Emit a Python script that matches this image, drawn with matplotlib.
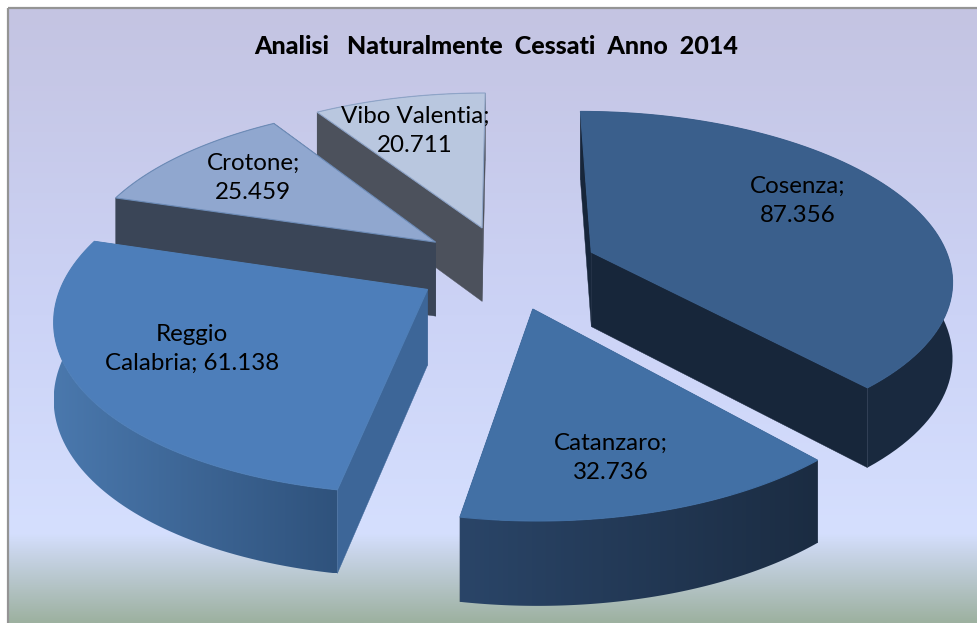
import numpy as np
import matplotlib
matplotlib.use("Agg")
import matplotlib.pyplot as plt
from matplotlib.colors import LinearSegmentedColormap
from matplotlib.patches import Polygon, Rectangle

# dati del grafico
categories = ["Cosenza", "Catanzaro", "Reggio\nCalabria", "Crotone", "Vibo Valentia"]
values = [87356, 32736, 61138, 25459, 20711]
title = "Analisi   Naturalmente  Cessati  Anno  2014"

# stile per fetta
top_colors = ["#3a5f8c", "#4270a5", "#4d7eba", "#90a7cf", "#b9c7df"]
wall_colors = ["#17263a", "#1b2c42", "#3d6698", "#3a4557", "#4c515c"]
rim_left = ["#17263a", "#2a4568", "#4a78ad", "#3a4557", "#4c515c"]
rim_right = ["#1a2a40", "#1b2c42", "#2f527c", "#3a4557", "#4c515c"]
edge_colors = ["#3a5f8c", "#4270a5", "#4f7fb8", "#6d8cb8", "#8ea4c8"]
label_pos = [(798, 201), (611, 458), (192, 349), (253, 178), (415, 131)]

# proiezione prospettica della torta
CX, CY = 507, 267
AX, BY = 360, 166
PERSP = 0.15
EXPLODE = 0.254
HEIGHT = 75

plt.rcParams["font.family"] = ["Lato", "DejaVu Sans"]


def project(x, y, z=0.0):
    q = 1 + PERSP * y
    return np.column_stack([CX + AX * x / q, CY - BY * y / q + z / q ** 0.6])


def gradient_patch(ax, pts, c0, c1):
    pts = np.asarray(pts)
    cmap = LinearSegmentedColormap.from_list("g", [c0, c1])
    im = ax.imshow(np.linspace(0, 1, 256).reshape(1, -1), cmap=cmap, aspect="auto", zorder=ax.zo,
                   extent=[pts[:, 0].min(), pts[:, 0].max(), pts[:, 1].max(), pts[:, 1].min()])
    poly = Polygon(pts, closed=True, transform=ax.transData, fc="none", ec="none")
    ax.add_patch(poly)
    im.set_clip_path(poly)


fig = plt.figure(figsize=(9.78, 6.23), dpi=100)
ax = fig.add_axes([0, 0, 1, 1])
ax.set_xlim(0, 978); ax.set_ylim(623, 0)
ax.set_autoscale_on(False)
ax.axis("off")
ax.zo = 2

# sfondo
bg = LinearSegmentedColormap.from_list("bg", [
    (0.0, "#c4c4e2"), (0.5, "#ccd3f6"), (0.855, "#d5dffe"), (0.885, "#c9d5ea"), (1.0, "#9db1a0")])
ax.imshow(np.linspace(0, 1, 256).reshape(-1, 1), cmap=bg, aspect="auto", zorder=0,
          extent=[8, 978, 623, 8])
ax.add_patch(Rectangle((8, 8), 975, 620, fc="none", ec="#949494", lw=1.6, zorder=1))

# calcolo angoli (senso orario dalle ore 12)
vals = np.array(values, dtype=float)
ends = np.cumsum(vals) / vals.sum() * 2 * np.pi
starts = np.r_[0, ends[:-1]]
mids = (starts + ends) / 2
off_x = EXPLODE * np.sin(mids)
off_y = EXPLODE * np.cos(mids)

for i in np.argsort(-off_y):
    t = np.linspace(starts[i], ends[i], 80)
    rx = off_x[i] + np.sin(t)
    ry = off_y[i] + np.cos(t)
    top = np.vstack([project(off_x[i], off_y[i]), project(rx, ry)])
    rim_top = project(rx, ry)
    rim_bot = project(rx, ry, HEIGHT)
    apex_top = project(off_x[i], off_y[i])
    apex_bot = project(off_x[i], off_y[i], HEIGHT)

    walls = []
    for k in (0, -1):
        walls.append((off_y[i] + np.cos(t[k]) / 2,
                       np.vstack([apex_top, rim_top[k], rim_bot[k], apex_bot]), "wall"))
    walls.append((ry.mean(), np.vstack([rim_top, rim_bot[::-1]]), "rim"))
    walls.sort(key=lambda w: -w[0])
    for _, pts, kind in walls:
        ax.zo += 1
        if kind == "rim":
            gradient_patch(ax, pts, rim_left[i], rim_right[i])
        else:
            ax.add_patch(Polygon(pts, closed=True, fc=wall_colors[i], ec=wall_colors[i], lw=0.3, zorder=ax.zo))
    ax.zo += 1
    ax.add_patch(Polygon(top, closed=True, fc=top_colors[i], ec=edge_colors[i], lw=0.8, zorder=ax.zo))

# etichette
for name, val, pos in zip(categories, values, label_pos):
    num = f"{val:,}".replace(",", ".")
    if "\n" in name:
        txt = f"{name}; {num}"
    else:
        txt = f"{name};\n{num}"
    ax.text(pos[0], pos[1], txt, ha="center", va="center", fontsize=17.4, color="#000000",
            linespacing=1.5, zorder=500)

ax.text(496, 47, title, ha="center", va="center", fontsize=18, fontweight="black",
        color="#000000", zorder=500)

fig.savefig("out.png", dpi=100)
